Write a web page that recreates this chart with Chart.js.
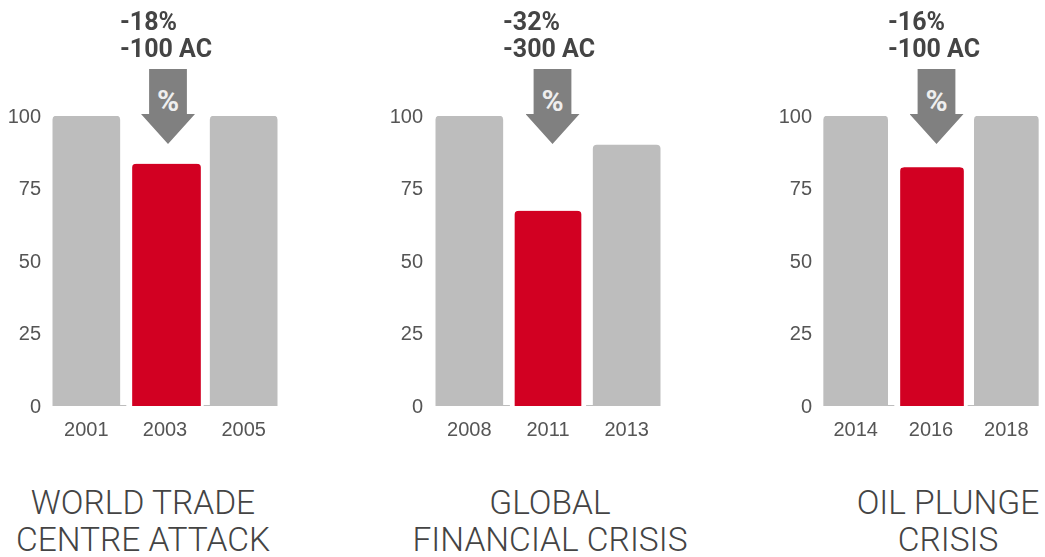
<!DOCTYPE html>
<html>
<head>
<meta charset="utf-8">
<script src="https://cdn.jsdelivr.net/npm/chart.js@4"></script>
<style>
  html, body { margin: 0; padding: 0; background: #fff; }
  body { position: relative; width: 1045px; height: 557px; overflow: hidden; }
  canvas { position: absolute; top: 0; }
  .drop { position: absolute; top: 8px; font: 700 25px/27px Roboto, sans-serif; color: #444; white-space: pre; }
  .arrow { position: absolute; top: 69px; width: 54px; height: 75px; background: #808080;
    clip-path: polygon(15% 0, 85% 0, 85% 60%, 100% 60%, 50% 100%, 0 60%, 15% 60%); }
  .arrow span { position: absolute; left: 0; right: 0; top: 14px; text-align: center; color: #eee; font: 700 30px Roboto, sans-serif; }
  .title { position: absolute; top: 484px; width: 340px; text-align: center; color: #444; font: 300 33.5px/37px Roboto, sans-serif; white-space: pre; }
</style>
</head>
<body>
<script>
const years1 = ["2001", "2003", "2005"];
const years2 = ["2008", "2011", "2013"];
const years3 = ["2014", "2016", "2018"];

const grey1 = [100, null, 100];
const grey2 = [100, null, 90];
const grey3 = [100, null, 100];

const red1 = [null, 83.5, null];
const red2 = [null, 67.3, null];
const red3 = [null, 82.3, null];

const yTicks = [0, 25, 50, 75, 100];

const dropLabels = ["-18%\n-100 AC", "-32%\n-300 AC", "-16%\n-100 AC"];
const titles = ["WORLD TRADE\nCENTRE ATTACK", "GLOBAL\nFINANCIAL CRISIS", "OIL PLUNGE\nCRISIS"];

const GREY = "#bdbdbd";
const RED = "#d20022";
const TICK = "#555555";
const RADIUS = 4;

// only runs between the outer bars, not over the whole plot width
const baseline = {
  id: "baseline",
  beforeDatasetsDraw(chart) {
    const bars = chart.getDatasetMeta(0).data;
    const y = chart.scales.y.getPixelForValue(0) - 0.5;
    const ctx = chart.ctx;
    ctx.save();
    ctx.strokeStyle = GREY;
    ctx.lineWidth = 1;
    ctx.beginPath();
    ctx.moveTo(bars[0].x, y);
    ctx.lineTo(bars[2].x, y);
    ctx.stroke();
    ctx.restore();
  }
};

function drawPanel(years, grey, red, o) {
  const canvas = document.createElement("canvas");
  canvas.style.left = o.left + "px";
  canvas.style.width = o.width + "px";
  canvas.style.height = "460px";
  canvas.width = o.width;
  canvas.height = 460;
  document.body.appendChild(canvas);

  new Chart(canvas.getContext("2d"), {
    type: "bar",
    data: {
      labels: years,
      datasets: [
        { data: grey, backgroundColor: GREY, barThickness: o.greyW, borderRadius: { topLeft: RADIUS, topRight: RADIUS }, borderSkipped: "bottom" },
        // white side borders cut the baseline next to the red bar
        {
          data: red,
          backgroundColor: RED,
          borderColor: "#fff",
          barThickness: o.redW,
          borderWidth: { left: o.cutL, right: o.cutR, top: 0, bottom: 0 },
          borderRadius: { topLeft: RADIUS + o.cutL, topRight: RADIUS + o.cutR },
          borderSkipped: "bottom"
        }
      ]
    },
    options: {
      responsive: false,
      animation: false,
      layout: { padding: { top: 116, left: 0, right: 0, bottom: 0 } },
      plugins: { legend: { display: false }, tooltip: { enabled: false } },
      scales: {
        x: {
          stacked: true,
          grid: { display: false },
          border: { display: false },
          ticks: { color: TICK, padding: 4, maxRotation: 0, font: { family: "Liberation Sans", size: 20 } },
          afterFit(s) { s.height = 54; }
        },
        y: {
          min: 0,
          max: 100,
          afterBuildTicks(s) { s.ticks = yTicks.map(v => ({ value: v })); },
          grid: { display: false, drawTicks: false },
          border: { display: false },
          ticks: { color: TICK, padding: o.tickPad, labelOffset: 1, font: { family: "Liberation Sans", size: 20 } },
          afterFit(s) { s.width = o.axisW; }
        }
      }
    },
    plugins: [baseline]
  });
}

function addText(i, o) {
  const drop = document.createElement("div");
  drop.className = "drop";
  drop.style.left = o.dropX + "px";
  drop.textContent = dropLabels[i];
  document.body.appendChild(drop);

  const arrow = document.createElement("div");
  arrow.className = "arrow";
  arrow.style.left = o.arrowX - 27 + "px";
  arrow.innerHTML = "<span>%</span>";
  document.body.appendChild(arrow);

  const title = document.createElement("div");
  title.className = "title";
  title.style.left = o.titleX - 170 + "px";
  title.textContent = titles[i];
  document.body.appendChild(title);
}

const p1 = { left: 0, width: 283, axisW: 47, tickPad: 6, greyW: 67, redW: 77, cutL: 6, cutR: 3, dropX: 120, arrowX: 168, titleX: 143 };
const p2 = { left: 383, width: 283, axisW: 47, tickPad: 7, greyW: 67, redW: 76, cutL: 5, cutR: 5, dropX: 503, arrowX: 552.5, titleX: 550 };
const p3 = { left: 771, width: 273, axisW: 47, tickPad: 6, greyW: 64, redW: 73, cutL: 6, cutR: 4, dropX: 888, arrowX: 936.5, titleX: 948 };

drawPanel(years1, grey1, red1, p1);
drawPanel(years2, grey2, red2, p2);
drawPanel(years3, grey3, red3, p3);
[p1, p2, p3].forEach((o, i) => addText(i, o));
</script>
</body>
</html>
